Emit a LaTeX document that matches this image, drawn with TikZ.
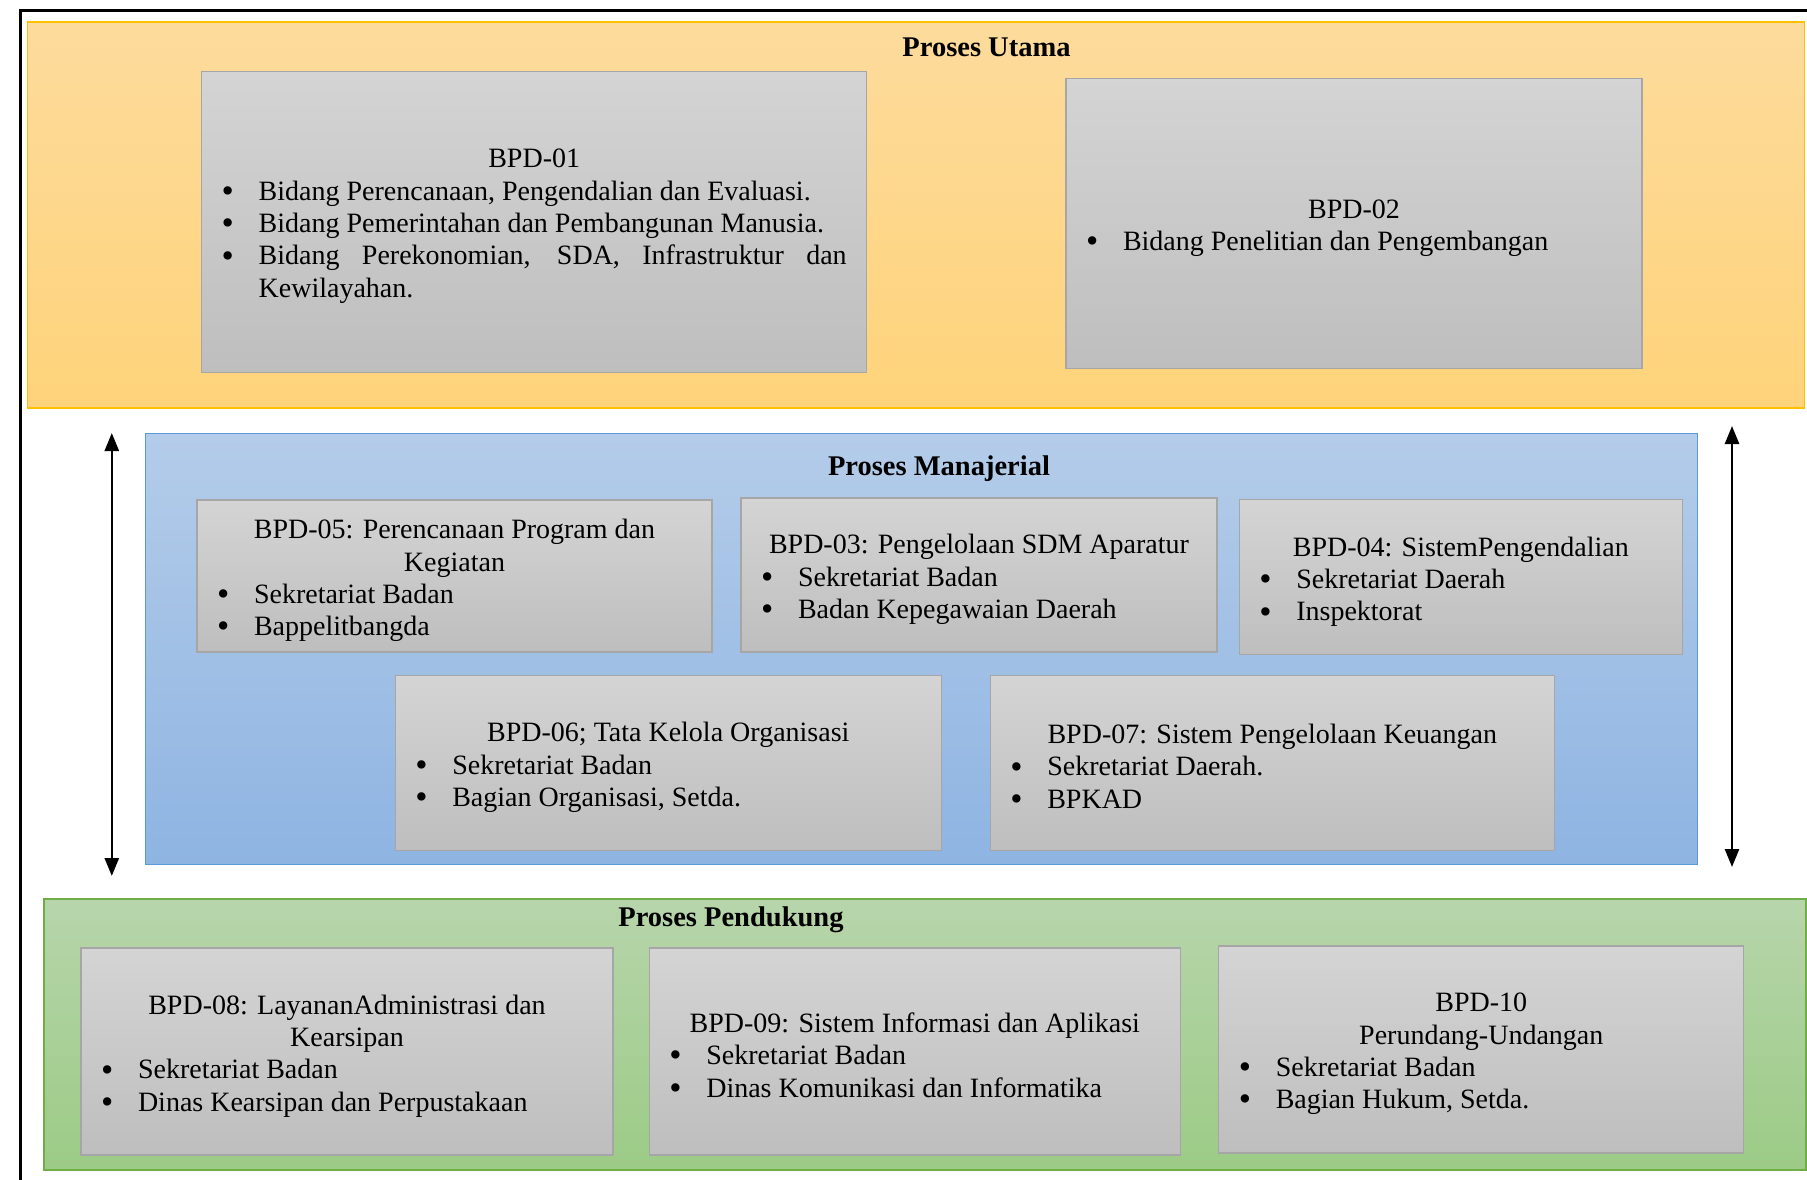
\documentclass[tikz,border=0pt]{standalone}
\usepackage{fontspec}
\setmainfont{Liberation Serif}
\usetikzlibrary{arrows.meta}

\definecolor{ytop}{RGB}{253,219,156}
\definecolor{ybot}{RGB}{254,211,122}
\definecolor{yedge}{RGB}{255,192,0}
\definecolor{btop}{RGB}{180,204,233}
\definecolor{bbot}{RGB}{142,180,226}
\definecolor{bedge}{RGB}{91,155,213}
\definecolor{gtop}{RGB}{183,213,171}
\definecolor{gbot}{RGB}{156,203,134}
\definecolor{gedge}{RGB}{112,173,71}
\definecolor{stop}{RGB}{212,212,212}
\definecolor{sbot}{RGB}{190,190,190}
\definecolor{sedge}{RGB}{166,166,166}

% one bullet item with hanging indent
\newcommand{\itm}[1]{\par\hangindent=37pt\hangafter=1\noindent
  \makebox[37pt][l]{\raisebox{-2.2pt}{\fontsize{35}{0}\selectfont •}}#1\par}
% box content: width, centred title, items (a little extra room on top)
\newcommand{\boxtext}[3]{%
  \begin{minipage}{#1}\fontsize{28}{32.3}\selectfont
  \vspace*{9pt}{\centering #2\par}#3\end{minipage}}

\tikzset{
  panel/.style={inner sep=0pt, line width=1.4pt},
  ypanel/.style={panel, draw=yedge, top color=ytop, bottom color=ybot},
  bpanel/.style={panel, draw=bedge, top color=btop, bottom color=bbot},
  gpanel/.style={panel, draw=gedge, top color=gtop, bottom color=gbot},
  sbox/.style={draw=sedge, line width=1.3pt, top color=stop, bottom color=sbot, inner sep=0pt},
  head/.style={font=\fontsize{28.5}{32}\selectfont\bfseries, inner sep=0pt},
  updown/.style={line width=2.6pt, {Triangle[width=14pt,length=18pt]}-{Triangle[width=14pt,length=18pt]}},
}

\begin{document}
\begin{tikzpicture}[x=1pt, y=-1pt]
\useasboundingbox (0,0) rectangle (1807,1180);
\fill[white] (0,0) rectangle (1807,1180);

% outer frame
\coordinate (fbl) at (20.5,1185);
\coordinate (ftl) at (20.5,10.5);
\coordinate (ftr) at (1812,10.5);
\draw[line width=2.8pt] (fbl) -- (ftl) -- (ftr);

% main process panel
\node[ypanel, minimum width=1777pt, minimum height=386pt] (utama) at (916.2,215) {};
\node[head] (utamaT) at (986.5,47) {Proses Utama};

\node[sbox, minimum width=665pt, minimum height=301pt] (b01) at (534.2,221.8)
  {\boxtext{625pt}{BPD-01}{%
    \itm{Bidang Perencanaan, Pengendalian dan Evaluasi.}%
    \itm{Bidang Pemerintahan dan Pembangunan Manusia.}%
    \itm{Bidang Perekonomian, SDA, Infrastruktur dan\linebreak Kewilayahan.}}};

\node[sbox, minimum width=576pt, minimum height=290pt] (b02) at (1354,223.6)
  {\boxtext{536pt}{BPD-02}{%
    \itm{Bidang Penelitian dan Pengembangan}}};

% managerial process panel
\node[bpanel, minimum width=1552pt, minimum height=431pt] (manaj) at (921.4,648.8) {};
\node[head] (manajT) at (939,469) {Proses Manajerial};

\node[sbox, minimum width=515pt, minimum height=152pt] (b05) at (454.5,576)
  {\boxtext{475pt}{BPD-05: Perencanaan Program dan\\Kegiatan}{%
    \itm{Sekretariat Badan}\itm{Bappelitbangda}}};

\node[sbox, minimum width=476pt, minimum height=154pt] (b03) at (979,575)
  {\boxtext{436pt}{BPD-03: Pengelolaan SDM Aparatur}{%
    \itm{Sekretariat Badan}\itm{Badan Kepegawaian Daerah}}};

\node[sbox, minimum width=443pt, minimum height=155pt] (b04) at (1460.8,577.3)
  {\boxtext{403pt}{BPD-04: SistemPengendalian}{%
    \itm{Sekretariat Daerah}\itm{Inspektorat}}};

\node[sbox, minimum width=546pt, minimum height=175pt] (b06) at (668.3,762.8)
  {\boxtext{506pt}{BPD-06; Tata Kelola Organisasi}{%
    \itm{Sekretariat Badan}\itm{Bagian Organisasi, Setda.}}};

\node[sbox, minimum width=564pt, minimum height=175pt] (b07) at (1272.3,762.8)
  {\boxtext{524pt}{BPD-07: Sistem Pengelolaan Keuangan}{%
    \itm{Sekretariat Daerah.}\itm{BPKAD}}};

% two-way arrows beside the managerial panel
\coordinate (la1) at (111.8,433);
\coordinate (la2) at (111.8,876);
\coordinate (ra1) at (1732,426);
\coordinate (ra2) at (1732,867);
\draw[updown] (la1) -- (la2);
\draw[updown] (ra1) -- (ra2);

% support process panel
\node[gpanel, minimum width=1762pt, minimum height=271pt] (pend) at (925,1034.5) {};
\node[head] (pendT) at (731,920) {Proses Pendukung};

\node[sbox, minimum width=532pt, minimum height=207pt] (b08) at (347,1051.5)
  {\boxtext{492pt}{BPD-08: LayananAdministrasi dan\\Kearsipan}{%
    \itm{Sekretariat Badan}\itm{Dinas Kearsipan dan Perpustakaan}}};

\node[sbox, minimum width=531pt, minimum height=207pt] (b09) at (914.8,1051.5)
  {\boxtext{491pt}{BPD-09: Sistem Informasi dan Aplikasi}{%
    \itm{Sekretariat Badan}\itm{Dinas Komunikasi dan Informatika}}};

\node[sbox, minimum width=525pt, minimum height=207pt] (b10) at (1481.3,1049.5)
  {\boxtext{485pt}{BPD-10\\Perundang-Undangan}{%
    \itm{Sekretariat Badan}\itm{Bagian Hukum, Setda.}}};
\end{tikzpicture}
\end{document}
